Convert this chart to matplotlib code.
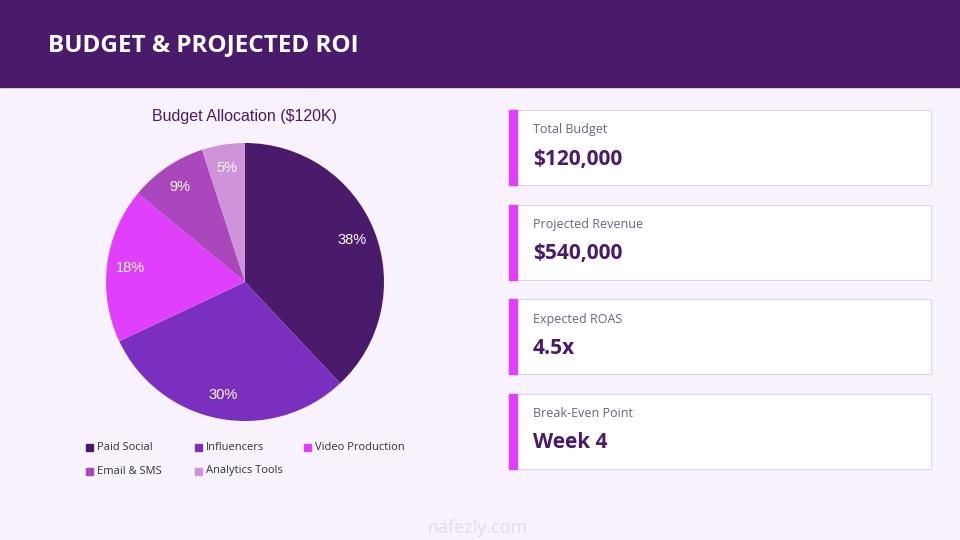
import matplotlib
matplotlib.use("Agg")
import matplotlib.pyplot as plt
from matplotlib.patches import Rectangle

CATEGORIES = ["Paid Social", "Influencers", "Video Production", "Email & SMS", "Analytics Tools"]
SHARES = [38, 30, 18, 9, 5]
COLORS = ["#4a1a6b", "#7b2fbe", "#e040fb", "#ab47bc", "#ce93d8"]
CARD_LABELS = ["Total Budget", "Projected Revenue", "Expected ROAS", "Break-Even Point"]
CARD_VALUES = ["$120,000", "$540,000", "4.5x", "Week 4"]

BG = "#f7f2fb"
HEAD = "#4a1a6b"
FONT = ["Open Sans", "DejaVu Sans"]

fig = plt.figure(figsize=(9.6, 5.4), dpi=100)
fig.patch.set_facecolor(BG)

# overlay axes in pixel coords
ov = fig.add_axes([0, 0, 1, 1])
ov.set_xlim(0, 960); ov.set_ylim(540, 0); ov.axis("off")
ov.add_patch(Rectangle((0, 0), 960, 87, color=HEAD, zorder=0))
ov.text(48, 45, "BUDGET & PROJECTED ROI", color="white", fontsize=17.5, fontweight="bold",
        va="center", ha="left", family=FONT)

# pie
ov.text(245, 116, "Budget Allocation ($120K)", color="#4a1a6b", fontsize=11.5,
        ha="center", va="center", family=["Liberation Sans", "DejaVu Sans"])
cx, cy, r = 245, 282, 139
pax = fig.add_axes([(cx - r) / 960, (540 - cy - r) / 540, 2 * r / 960, 2 * r / 540])
wedges, _, autotexts = pax.pie(SHARES, colors=COLORS, startangle=90, counterclock=False,
                               autopct="%d%%", pctdistance=0.83,
                               textprops=dict(color="white", fontsize=10.5,
                                              family=["Liberation Sans", "DejaVu Sans"]))
pax.set_xlim(-1, 1); pax.set_ylim(-1, 1)
pax.set_aspect("equal")

# legend
for i, (name, col) in enumerate(zip(CATEGORIES, COLORS)):
    x = 87 + 109 * (i % 3)
    y = 447 + 24 * (i // 3)
    ov.add_patch(Rectangle((x - 1, y - 3.5), 7, 7, color=col))
    ov.text(x + 10, y, name, fontsize=8, color="#333333", va="center", ha="left", family=FONT)

# cards
for i, (lab, val) in enumerate(zip(CARD_LABELS, CARD_VALUES)):
    top = 110 + 94.5 * i
    ov.add_patch(Rectangle((509, top), 422, 75, facecolor="white", edgecolor="#dcd6e2", lw=0.8))
    ov.add_patch(Rectangle((509, top), 8, 75, color="#e040fb"))
    ov.text(533, top + 20, lab, fontsize=9, color="#666677", va="center", ha="left", family=FONT)
    ov.text(533, top + 49, val, fontsize=15, color="#4a1a6b", fontweight="bold",
            va="center", ha="left", family=FONT)

# watermark
ov.text(478, 528, "nafezly.com", fontsize=13, color="#e2dde6", ha="center", va="center", family=FONT)

fig.savefig("out.png", dpi=100, facecolor=BG)
